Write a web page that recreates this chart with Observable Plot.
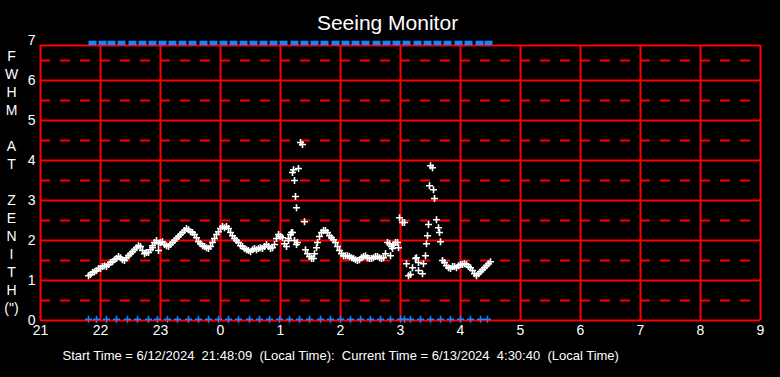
<!DOCTYPE html>
<html><head><meta charset="utf-8">
<script src="https://cdn.jsdelivr.net/npm/d3@7"></script>
<script src="https://cdn.jsdelivr.net/npm/@observablehq/plot@0.6"></script>
<style>html,body{margin:0;padding:0;background:#000;overflow:hidden}</style>
</head><body><div id="chart"></div>
<script>
const title = "Seeing Monitor";
const caption = "Start Time = 6/12/2024  21:48:09  (Local Time):  Current Time = 6/13/2024  4:30:40  (Local Time)";
const yLabelChars = ["F","W","H","M","","A","T","","Z","E","N","I","T","H","(\")"];
const hourTicks = [21,22,23,24,25,26,27,28,29,30,31,32,33];
const yTicks = [0,1,2,3,4,5,6,7];
const solidLevels = [0,1,2,3,4,5,6];
const dashedLevels = [0.5,1.5,2.5,3.5,4.5,5.5,6.5];
const frameTop = 6.875;

// [minutes after 21:00, FWHM arcsec]
const seeing = [
[48,1.12],[50,1.15],[52,1.2],[54,1.22],[56,1.25],[58,1.3],[60,1.3],[62,1.35],[64,1.37],[66,1.35],
[68,1.4],[70,1.45],[72,1.47],[74,1.52],[76,1.55],[78,1.6],[80,1.57],[82,1.52],[84,1.5],[86,1.57],
[88,1.62],[90,1.67],[92,1.72],[94,1.77],[96,1.82],[98,1.87],[100,1.85],[102,1.75],[104,1.67],[106,1.7],
[108,1.7],[110,1.77],[112,1.87],[112,1.82],[114,1.95],[116,2.0],[118,1.92],[118,1.75],[120,1.95],[122,1.97],
[124,1.9],[126,1.87],[128,1.85],[130,1.9],[132,1.95],[134,2.0],[136,2.05],[138,2.1],[140,2.15],[142,2.2],
[144,2.25],[146,2.3],[148,2.27],[150,2.22],[152,2.2],[154,2.15],[156,2.07],[158,1.97],[160,1.92],[162,1.87],
[164,1.85],[166,1.82],[168,1.8],[170,1.85],[172,1.95],[174,2.05],[176,2.15],[178,2.22],[180,2.3],[182,2.35],
[184,2.32],[186,2.35],[188,2.3],[190,2.2],[192,2.12],[194,2.05],[196,2.0],[198,1.95],[200,1.87],[202,1.85],
[204,1.8],[206,1.77],[208,1.75],[210,1.72],[212,1.77],[214,1.8],[216,1.77],[218,1.8],[220,1.82],[222,1.8],
[224,1.85],[226,1.9],[228,1.85],[230,1.8],[232,1.82],[234,1.9],[236,2.05],[238,2.15],[240,2.1],[242,2.07],
[244,1.92],[246,1.85],[248,2.0],[250,2.15],[252,2.2],[254,2.0],[256,1.9],
[248,2.05],[251,2.2],[252,3.7],[253,3.77],[254,3.5],[255,3.1],[256,2.82],[257,1.95],[258,3.8],[260,4.45],
[262,4.4],[264,2.47],
[265,1.77],[267,1.67],[269,1.6],[271,1.55],[273,1.55],[274,1.67],[276,1.82],[277,1.95],[279,2.1],[281,2.2],
[283,2.25],[285,2.25],[287,2.2],[289,2.12],[291,2.07],[293,2.02],[295,1.95],[297,1.85],[299,1.75],[301,1.67],
[303,1.62],[305,1.62],[307,1.62],[309,1.6],[311,1.57],[313,1.55],[315,1.52],[317,1.5],[319,1.52],[321,1.57],
[323,1.6],[325,1.62],[327,1.57],[329,1.55],[331,1.55],[333,1.57],[335,1.6],[337,1.6],[339,1.57],[341,1.55],
[343,1.57],[345,1.67],[347,1.95],[349,1.92],[351,1.85],[352,1.8],[353,1.9],[355,1.95],[357,1.95],[358,1.82],
[350,1.62],[359,2.57],[362,2.45],[364,2.45],[366,1.42],[368,1.12],[370,1.15],[372,1.32],[375,1.55],[376,1.57],
[378,1.45],[378,1.25],[382,1.17],[383,1.42],[385,1.62],[386,1.92],[387,2.12],[388,2.4],[389,3.37],[390,3.87],
[392,3.82],[393,3.27],[394,3.05],[396,2.52],[398,2.32],[399,2.2],[400,1.97],[402,1.5],[404,1.45],[406,1.37],
[408,1.32],[410,1.3],[412,1.35],[414,1.35],[416,1.32],[418,1.37],[420,1.4],[422,1.4],[424,1.42],[426,1.4],
[428,1.35],[430,1.32],[432,1.25],[434,1.17],[436,1.12],[438,1.17],[440,1.22],[442,1.27],[444,1.32],[446,1.37],
[448,1.42],[450,1.47]
];

// minutes after 21:00 of the blue status marks
const topMarks = [52,62,71,81,92,102,112,122,132,142,152,163,173,183,193,203,213,223,233,243,254,264,274,284,295,305,315,325,336,346,356,366,377,387,397,407,418,428,439,448];
const bottomMarks = [48,56,66,76,87,97,108,117,127,137,148,158,168,178,188,198,209,219,229,239,249,259,269,280,290,300,310,320,330,340,350,360,364,370,380,390,400,410,420,430,440,447];
const topLevel = 6.94;
const bottomLevel = 0.03;

const RED = "#ff0000";
const BLUE = "#1a84ff";
const toHour = m => 21 + m / 60;

const plusSym = {draw(ctx){ctx.moveTo(-3.5,0);ctx.lineTo(3.5,0);ctx.moveTo(0,-3.5);ctx.lineTo(0,3.5);}};
const barSym = {draw(ctx){ctx.rect(-4,-2.2,8,4.4);}};

const chart = Plot.plot({
  width: 780, height: 377,
  marginLeft: 40, marginRight: 20, marginTop: 40, marginBottom: 57,
  x: {domain: [21, 33]},
  y: {domain: [0, 7]},
  style: {background: "#000", color: "#fff", fontFamily: "'Liberation Sans', Arial, sans-serif", fontSize: "14px"},
  marks: [
    Plot.ruleY(dashedLevels, {stroke: RED, strokeWidth: 2, strokeDasharray: "10,10"}),
    Plot.ruleY(solidLevels, {stroke: RED, strokeWidth: 2}),
    Plot.ruleY([frameTop], {stroke: RED, strokeWidth: 2}),
    Plot.ruleX(hourTicks, {y1: 0, y2: frameTop, stroke: RED, strokeWidth: 2}),
    Plot.axisX(hourTicks, {tickSize: 0, tickPadding: 5, tickFormat: d => String(d % 24), fontSize: 14, fill: "#fff"}),
    Plot.axisY(yTicks, {tickSize: 0, tickPadding: 5, fontSize: 14, fill: "#fff"}),
    Plot.dot(seeing, {x: d => toHour(d[0]), y: d => d[1], symbol: plusSym, stroke: "#fff", fill: "none", strokeWidth: 1.6, r: 3}),
    Plot.dot(bottomMarks, {x: m => toHour(m), y: () => bottomLevel, symbol: plusSym, stroke: BLUE, fill: "none", strokeWidth: 1.5, r: 3}),
    Plot.dot(topMarks, {x: m => toHour(m), y: () => topLevel, symbol: barSym, fill: BLUE, stroke: "none", r: 3}),
    Plot.text([title], {frameAnchor: "top", dx: -13, dy: -17.5, lineAnchor: "middle", fontSize: 21, fill: "#fff"}),
    Plot.text([caption], {frameAnchor: "bottom-left", dx: 22, dy: 35, lineAnchor: "middle", textAnchor: "start", fontSize: 13, fill: "#fff"}),
    Plot.text([yLabelChars.map(c => c === "" ? "\u00a0" : c).join("\n")], {frameAnchor: "top-left", dx: -29, dy: 8, lineAnchor: "top", textAnchor: "middle", lineHeight: 18/14, fontSize: 14, fill: "#fff"})
  ]
});
chart.style.whiteSpace = "pre";
document.getElementById("chart").appendChild(chart);
</script>
</body></html>
